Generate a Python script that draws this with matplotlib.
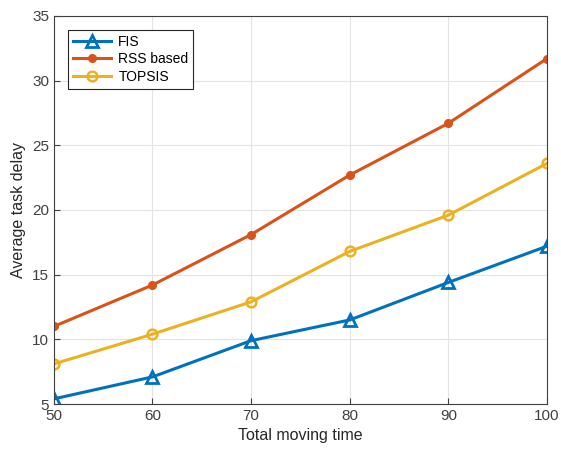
import matplotlib
matplotlib.use('Agg')
import matplotlib.pyplot as plt

plt.rcParams['font.family'] = ['Liberation Sans', 'DejaVu Sans']

# data
moving_time = [50, 60, 70, 80, 90, 100]
fis = [5.4, 7.1, 9.9, 11.5, 14.4, 17.2]
rss = [11.0, 14.2, 18.1, 22.7, 26.7, 31.7]
topsis = [8.1, 10.4, 12.9, 16.8, 19.6, 23.6]

fig = plt.figure(figsize=(5.61, 4.54), dpi=100)
ax = fig.add_axes([0.096, 0.110, 0.879, 0.855])

ax.plot(moving_time, fis, color='#0072BD', lw=2.2, marker='^', ms=8,
        mfc='none', mew=2, label='FIS')
ax.plot(moving_time, rss, color='#D95319', lw=2.2, marker='o', ms=5.5,
        label='RSS based')
ax.plot(moving_time, topsis, color='#EDB120', lw=2.2, marker='o', ms=7,
        mfc='none', mew=1.8, label='TOPSIS')

ax.set_xlim(50, 100)
ax.set_ylim(5, 35)
ax.set_xticks(range(50, 101, 10))
ax.set_yticks(range(5, 36, 5))
ax.grid(True, color='#e3e3e3', lw=0.8)
ax.set_axisbelow(True)
ax.tick_params(direction='in', labelsize=11, colors='#404040', length=4)
for s in ax.spines.values():
    s.set_color('#404040')
    s.set_linewidth(0.8)

ax.set_xlabel('Total moving time', fontsize=11.5, color='#262626')
ax.set_ylabel('Average task delay', fontsize=11.5, color='#262626')

leg = ax.legend(loc='upper left', bbox_to_anchor=(0.028, 0.964), fontsize=10,
                fancybox=False, framealpha=1, edgecolor='#262626',
                handlelength=2.8, borderpad=0.35, labelspacing=0.25,
                borderaxespad=0, handletextpad=0.5)
leg.get_frame().set_linewidth(0.8)

fig.savefig('out.png', dpi=100)
